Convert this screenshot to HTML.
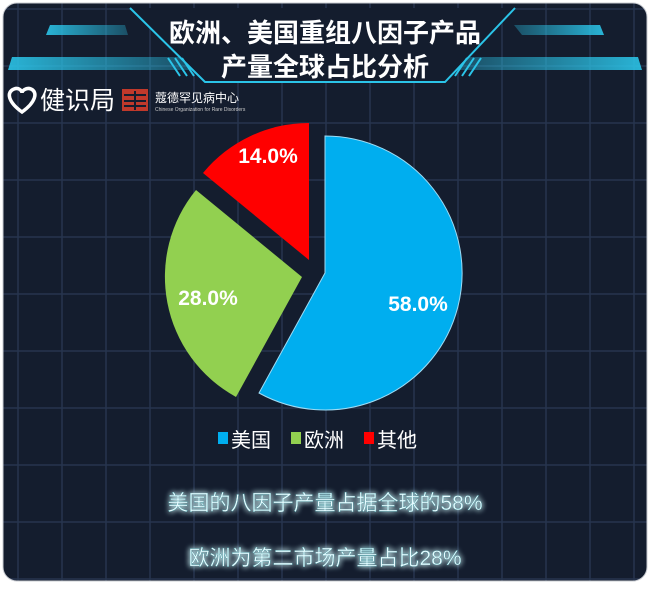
<!DOCTYPE html>
<html><head><meta charset="utf-8"><style>
html,body{margin:0;padding:0;background:#fff;}
body{width:650px;height:585px;overflow:hidden;font-family:"Liberation Sans","Noto Sans CJK SC",sans-serif;}
</style></head><body>
<svg width="650" height="585" viewBox="0 0 650 585" xmlns="http://www.w3.org/2000/svg" font-family="Liberation Sans, Noto Sans CJK SC, sans-serif">
<defs>
<linearGradient id="gl" x1="0" x2="1"><stop offset="0" stop-color="#2bc4e8" stop-opacity="0.9"/><stop offset="1" stop-color="#2bc4e8" stop-opacity="0.3"/></linearGradient>
<linearGradient id="gr" x1="1" x2="0"><stop offset="0" stop-color="#2bc4e8" stop-opacity="0.9"/><stop offset="1" stop-color="#2bc4e8" stop-opacity="0.3"/></linearGradient>
<filter id="glow" x="-20%" y="-50%" width="140%" height="200%"><feGaussianBlur stdDeviation="3" result="b"/><feMerge><feMergeNode in="b"/><feMergeNode in="b"/><feMergeNode in="SourceGraphic"/></feMerge></filter>
<clipPath id="cp"><rect x="3" y="3" width="644" height="578" rx="14"/></clipPath>
</defs>
<rect x="3" y="3" width="644" height="578" rx="14" fill="#141d2e"/>
<g clip-path="url(#cp)" stroke="#26354f" stroke-width="1.5">
<line x1="18" y1="0" x2="18" y2="585"/><line x1="62" y1="0" x2="62" y2="585"/><line x1="106" y1="0" x2="106" y2="585"/><line x1="150" y1="0" x2="150" y2="585"/><line x1="194" y1="0" x2="194" y2="585"/><line x1="238" y1="0" x2="238" y2="585"/><line x1="282" y1="0" x2="282" y2="585"/><line x1="326" y1="0" x2="326" y2="585"/><line x1="370" y1="0" x2="370" y2="585"/><line x1="414" y1="0" x2="414" y2="585"/><line x1="458" y1="0" x2="458" y2="585"/><line x1="502" y1="0" x2="502" y2="585"/><line x1="546" y1="0" x2="546" y2="585"/><line x1="590" y1="0" x2="590" y2="585"/><line x1="634" y1="0" x2="634" y2="585"/>
<line x1="0" y1="9" x2="650" y2="9"/><line x1="0" y1="66" x2="650" y2="66"/><line x1="0" y1="123" x2="650" y2="123"/><line x1="0" y1="180" x2="650" y2="180"/><line x1="0" y1="237" x2="650" y2="237"/><line x1="0" y1="294" x2="650" y2="294"/><line x1="0" y1="351" x2="650" y2="351"/><line x1="0" y1="408" x2="650" y2="408"/><line x1="0" y1="465" x2="650" y2="465"/><line x1="0" y1="522" x2="650" y2="522"/><line x1="0" y1="579" x2="650" y2="579"/>
</g>
<!-- header bars -->
<polygon points="50,25 125,25 128,35 46,35" fill="url(#gl)"/>
<polygon points="12,57 185,57 190,70 8,70" fill="url(#gl)"/>
<polygon points="514,25 600,25 604,35 522,35" fill="url(#gr)"/>
<polygon points="465,57 638,57 642,70 460,70" fill="url(#gr)"/>
<polygon points="130,8 205,82 445,82 515,8" fill="#141d2e"/>
<polyline points="130,8 205,82 445,82 515,8" fill="none" stroke="#2bc4e8" stroke-width="2"/>
<g stroke="#2bc4e8" stroke-width="2"><line x1="168" y1="58" x2="180" y2="76"/><line x1="175" y1="58" x2="187" y2="76"/><line x1="182" y1="58" x2="194" y2="76"/><line x1="455" y1="76" x2="467" y2="58"/><line x1="462" y1="76" x2="474" y2="58"/><line x1="469" y1="76" x2="481" y2="58"/></g>
<text x="325" y="42" text-anchor="middle" font-size="26" font-weight="bold" fill="#fff">欧洲、美国重组八因子产品</text>
<text x="325" y="76" text-anchor="middle" font-size="26" font-weight="bold" fill="#fff">产量全球占比分析</text>
<!-- logos -->
<path d="M22,112 C8,102 6,92 14,89 C19,87 22,91 22,93 C22,91 26,87 31,89 C38,92 36,102 22,112Z" fill="none" stroke="#fff" stroke-width="3.5"/>
<text x="40" y="109" font-size="25" fill="#fff">健识局</text>
<rect x="122" y="89" width="26" height="22" fill="#c0392b"/>
<g stroke="#141d2e" stroke-width="2"><line x1="124" y1="95" x2="146" y2="95"/><line x1="124" y1="101" x2="146" y2="101"/><line x1="124" y1="106" x2="146" y2="106"/><line x1="135" y1="91" x2="135" y2="110"/></g>
<text x="155" y="102" font-size="12" fill="#fff">蔻德罕见病中心</text>
<text x="155" y="111" font-size="5" fill="#ccc">Chinese Organization for Rare Disorders</text>
<!-- pie -->
<path d="M325,273 L325,136 A137,137 0 1 1 259,393 Z" fill="#00aeef" stroke="#9fdcf5" stroke-width="1"/>
<path d="M302,277 L236,397 A137,137 0 0 1 196,190 Z" fill="#92d050"/>
<path d="M309,260 L203,173 A137,137 0 0 1 309,123 Z" fill="#ff0000"/>
<text x="268" y="163" text-anchor="middle" font-size="21" font-weight="bold" fill="#fff">14.0%</text>
<text x="208" y="305" text-anchor="middle" font-size="21" font-weight="bold" fill="#fff">28.0%</text>
<text x="418" y="311" text-anchor="middle" font-size="21" font-weight="bold" fill="#fff">58.0%</text>
<!-- legend -->
<rect x="218" y="432" width="10" height="12" fill="#00aeef"/>
<text x="231" y="447" font-size="20" fill="#fff">美国</text>
<rect x="291" y="432" width="10" height="12" fill="#92d050"/>
<text x="304" y="447" font-size="20" fill="#fff">欧洲</text>
<rect x="364" y="432" width="10" height="12" fill="#ff0000"/>
<text x="377" y="447" font-size="20" fill="#fff">其他</text>
<!-- bottom text -->
<g filter="url(#glow)">
<text x="325" y="510" text-anchor="middle" font-size="21" fill="#e8fbff" stroke="#2a8c96" stroke-width="0.3">美国的八因子产量占据全球的58%</text>
<text x="325" y="565" text-anchor="middle" font-size="21" fill="#e8fbff" stroke="#2a8c96" stroke-width="0.3">欧洲为第二市场产量占比28%</text>
</g>
<rect x="3" y="3" width="644" height="578" rx="14" fill="none" stroke="#c9ccd2" stroke-width="1"/>
</svg>
</body></html>
